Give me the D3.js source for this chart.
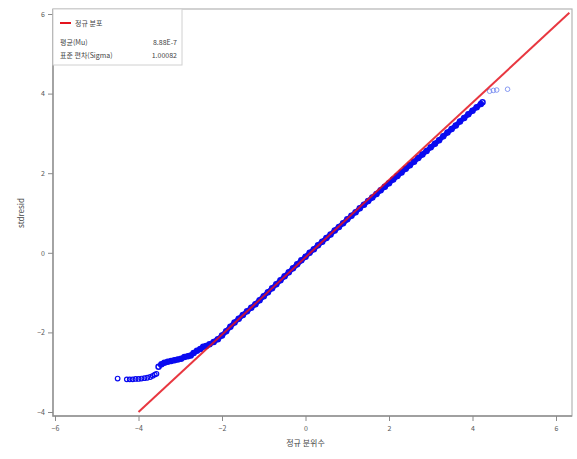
<!DOCTYPE html>
<html>
<head>
<meta charset="utf-8">
<script src="https://cdn.jsdelivr.net/npm/d3@7"></script>
<style>
  body { margin: 0; background: #fff; }
  text { font-family: "Noto Sans CJK KR", "Noto Sans", sans-serif; }
</style>
</head>
<body>
<svg class="qqPlot"></svg>
<script>
// tick values on both axes
var xTicks = [-6, -4, -2, 0, 2, 4, 6];
var yTicks = [-4, -2, 0, 2, 4, 6];

// fitted normal line
var normLineX = [-4, 6.32];
var normLineY = [-4, 6.03];

// lower flat tail of the residuals
var tailLowX = [-4.50, -4.28, -4.21, -4.14, -4.07, -4.00, -3.93, -3.86, -3.79, -3.72, -3.66, -3.61, -3.57];
var tailLowY = [-3.16, -3.18, -3.18, -3.18, -3.17, -3.17, -3.16, -3.15, -3.14, -3.12, -3.09, -3.06, -3.04];

// dense body of the residuals
var bodyX = [-3.52, -3.45, -3.38, -3.30, -3.22, -3.14, -3.06, -2.98, -2.90, -2.82, -2.75, -2.68, -2.60, -2.52, -2.45, -2.38, -2.30,
  -2.2, -2.1, -2.0, -1.9, -1.8, -1.7, -1.6, -1.5, -1.4, -1.3, -1.2, -1.1, -1.0, -0.9, -0.8, -0.7, -0.6, -0.5, -0.4, -0.3, -0.2, -0.1,
  0.0, 0.1, 0.2, 0.3, 0.4, 0.5, 0.6, 0.7, 0.8, 0.9, 1.0, 1.1, 1.2, 1.3, 1.4, 1.5, 1.6, 1.7, 1.8, 1.9, 2.0,
  2.1, 2.2, 2.3, 2.4, 2.5, 2.6, 2.7, 2.8, 2.9, 3.0, 3.1, 3.2, 3.3, 3.4, 3.5, 3.6, 3.7, 3.8, 3.9, 4.0, 4.1, 4.2, 4.24];
var bodyY = [-2.86, -2.80, -2.76, -2.74, -2.72, -2.70, -2.68, -2.66, -2.62, -2.60, -2.58, -2.52, -2.46, -2.42, -2.36, -2.34, -2.30,
  -2.24, -2.17, -2.08, -1.97, -1.86, -1.75, -1.66, -1.56, -1.47, -1.38, -1.29, -1.19, -1.09, -0.99, -0.89, -0.79, -0.69, -0.59, -0.49, -0.39, -0.29, -0.19,
  -0.10, 0.00, 0.09, 0.19, 0.28, 0.37, 0.46, 0.56, 0.65, 0.74, 0.84, 0.93, 1.02, 1.12, 1.21, 1.30, 1.39, 1.48, 1.57, 1.66, 1.75,
  1.84, 1.93, 2.02, 2.11, 2.20, 2.29, 2.38, 2.47, 2.56, 2.65, 2.74, 2.83, 2.93, 3.02, 3.11, 3.20, 3.30, 3.39, 3.48, 3.57, 3.66, 3.74, 3.78];

// upper outliers
var tailHighX = [4.41, 4.50, 4.58, 4.84];
var tailHighY = [4.06, 4.08, 4.09, 4.11];

var legendTitle = "정규 분포";
var statNames = ["평균(Mu)", "표준 편차(Sigma)"];
var statValues = ["8.88E-7", "1.00082"];

var drawQQ = function()
{
  var screen = { //size of svg
    width: 577,
    height: 459
  }

  var frame = { left: 53, right: 572, top: 9, bottom: 416 };

  var xScale = d3.scaleLinear()
                 .domain([-6, 6])
                 .range([55, 556]);

  var yScale = d3.scaleLinear()
                 .domain([-4, 6])
                 .range([412, 14]);

  var svg = d3.select(".qqPlot")
              .attr("width", screen.width)
              .attr("height", screen.height);

  var blue = "#0a0af0";

  svg.append("defs").append("clipPath")
     .attr("id", "plotClip")
     .append("rect")
     .attr("x", frame.left)
     .attr("y", frame.top)
     .attr("width", frame.right - frame.left)
     .attr("height", frame.bottom - frame.top);

  //frame
  svg.append("rect")
     .attr("x", frame.left)
     .attr("y", frame.top)
     .attr("width", frame.right - frame.left)
     .attr("height", frame.bottom - frame.top)
     .attr("fill", "none")
     .attr("stroke", "#b4b4b4")
     .attr("stroke-width", 1.2);

  // left and bottom edges a bit darker
  svg.append("path")
     .attr("d", "M" + frame.left + "," + frame.top + "V" + frame.bottom + "H" + frame.right)
     .attr("fill", "none")
     .attr("stroke", "#909090")
     .attr("stroke-width", 1.4);

  var pts = function(xs, ys) {
    return xs.map(function(x, i) { return [x, ys[i]]; });
  }

  var plot = svg.append("g").attr("clip-path", "url(#plotClip)");

  var line = d3.line()
               .x(function(d) { return xScale(d[0]); })
               .y(function(d) { return yScale(d[1]); });

  //dense body drawn as a thick band under its circles
  plot.append("path")
      .datum(pts(bodyX, bodyY))
      .attr("d", line)
      .attr("fill", "none")
      .attr("stroke", blue)
      .attr("stroke-width", 5)
      .attr("stroke-linejoin", "round");

  var circles = function(data, cls, color, width, r) {
    plot.append("g")
        .classed(cls, true)
        .selectAll("circle")
        .data(data)
        .enter()
        .append("circle")
        .attr("cx", function(d) { return xScale(d[0]); })
        .attr("cy", function(d) { return yScale(d[1]); })
        .attr("r", r)
        .attr("fill", "none")
        .attr("stroke", color)
        .attr("stroke-width", width);
  }

  circles(pts(bodyX, bodyY), "body", blue, 1.5, 2.5);
  circles(pts(tailLowX, tailLowY), "tailLow", blue, 1.2, 2.3);
  circles(pts(tailHighX, tailHighY), "tailHigh", "#7a8ff0", 0.9, 2.3);

  //normal line
  plot.append("path")
      .datum(pts(normLineX, normLineY))
      .attr("d", line)
      .attr("stroke", "#e4141e")
      .attr("stroke-width", 2)
      .attr("stroke-opacity", 0.85);

  //x-axis
  var xAxis = d3.axisBottom(xScale)
                .tickValues(xTicks)
                .tickSize(5)
                .tickFormat(d3.format("d"));

  var gx = svg.append("g")
              .classed("xAxis", true)
              .attr("transform", "translate(0," + frame.bottom + ")")
              .call(xAxis);

  //y-axis
  var yAxis = d3.axisLeft(yScale)
                .tickValues(yTicks)
                .tickSize(5)
                .tickFormat(d3.format("d"));

  var gy = svg.append("g")
              .classed("yAxis", true)
              .attr("transform", "translate(" + frame.left + ",0)")
              .call(yAxis);

  [gx, gy].forEach(function(g) {
    g.select(".domain").remove();
    g.selectAll("line").attr("stroke", "#8a8a8a");
    g.selectAll("text")
     .attr("fill", "#555")
     .style("font-size", "7px");
  });
  gx.selectAll("text").attr("dy", "1.05em");

  //axis titles
  svg.append("text")
     .attr("x", (xScale(-6) + xScale(6)) / 2)
     .attr("y", 446)
     .attr("text-anchor", "middle")
     .attr("fill", "#444")
     .style("font-size", "8px")
     .text("정규 분위수");

  svg.append("text")
     .attr("transform", "translate(24," + yScale(1) + ") rotate(-90)")
     .attr("text-anchor", "middle")
     .attr("fill", "#444")
     .style("font-size", "8px")
     .text("stdresid");

  //legend
  var legend = svg.append("g").classed("legend", true);

  legend.append("rect")
        .attr("x", frame.left)
        .attr("y", frame.top)
        .attr("width", 129)
        .attr("height", 56)
        .attr("fill", "#fff")
        .attr("stroke", "#d0d0d0")
        .attr("stroke-width", 1);

  legend.append("line")
        .attr("x1", 60).attr("x2", 71)
        .attr("y1", 23).attr("y2", 23)
        .attr("stroke", "#e4141e")
        .attr("stroke-width", 2);

  legend.append("text")
        .attr("x", 75)
        .attr("y", 26)
        .attr("fill", "#444")
        .style("font-size", "7px")
        .text(legendTitle);

  legend.selectAll(".statName")
        .data(statNames)
        .enter()
        .append("text")
        .attr("x", 60)
        .attr("y", function(d, i) { return 45 + i * 13; })
        .attr("fill", "#444")
        .style("font-size", "7px")
        .text(function(d) { return d; });

  legend.selectAll(".statValue")
        .data(statValues)
        .enter()
        .append("text")
        .attr("x", 177)
        .attr("y", function(d, i) { return 45 + i * 13; })
        .attr("text-anchor", "end")
        .attr("fill", "#444")
        .style("font-size", "7px")
        .text(function(d) { return d; });
}

drawQQ();
</script>
</body>
</html>
